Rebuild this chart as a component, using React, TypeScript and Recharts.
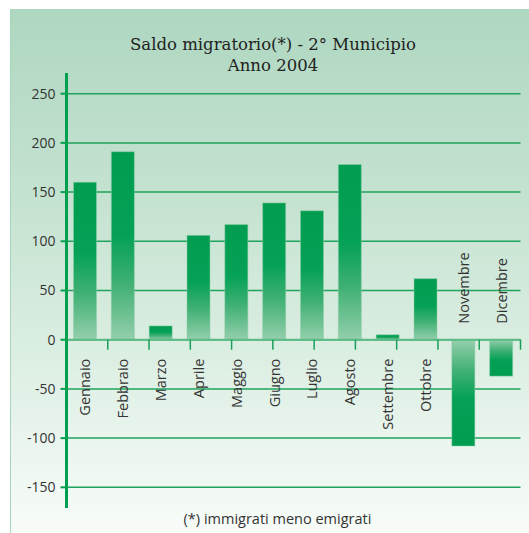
import React from 'react';
import { BarChart, Bar, XAxis, YAxis, CartesianGrid, ReferenceLine, LabelList } from 'recharts';

const months = ['Gennaio', 'Febbraio', 'Marzo', 'Aprile', 'Maggio', 'Giugno', 'Luglio', 'Agosto', 'Settembre', 'Ottobre', 'Novembre', 'Dicembre'];
const saldo = [160, 191, 14, 106, 117, 139, 131, 178, 5, 62, -108, -37];
const yTicks = [-150, -100, -50, 0, 50, 100, 150, 200, 250];
const boundaries = [1, 2, 3, 4, 5, 6, 7, 8, 9, 10, 11, 12];
const titleLines = ['Saldo migratorio(*) - 2° Municipio', 'Anno 2004'];
const footnote = '(*) immigrati meno emigrati';

const data = months.map((m, i) => ({ month: m, value: saldo[i] }));

const GREEN = '#00a050';
const SANS = '"Open Sans", "Liberation Sans", sans-serif';

const MonthLabel = (props: any) => {
  const { x, y, width, height, index } = props;
  const v = saldo[index];
  const cx = x + width / 2;
  const y1 = y;
  const y2 = y + height;
  if (v >= 0) {
    const zeroY = Math.max(y1, y2);
    return (
      <text x={cx} y={zeroY + 19} transform={`rotate(-90, ${cx}, ${zeroY + 19})`} textAnchor="end" dominantBaseline="central" fontFamily={SANS} fontSize={14.5} fill="#333">
        {months[index]}
      </text>
    );
  }
  const zeroY = Math.min(y1, y2);
  return (
    <text x={cx} y={zeroY - 16} transform={`rotate(-90, ${cx}, ${zeroY - 16})`} textAnchor="start" dominantBaseline="central" fontFamily={SANS} fontSize={14.5} fill="#333">
      {months[index]}
    </text>
  );
};

export default function App() {
  return (
    <div style={{ position: 'fixed', left: 0, top: 0, width: 529, height: 533, background: '#fff', overflow: 'hidden' }}>
      <div
        style={{
          position: 'absolute',
          left: 10,
          top: 9,
          width: 519,
          height: 524,
          background: 'linear-gradient(to bottom, #aed7c0 0%, #c4e2d0 35%, #dbeee2 65%, #f8fcf9 100%)',
          borderLeft: '1.5px solid #a9d6bb',
          boxSizing: 'border-box',
        }}
      />
      <div style={{ position: 'absolute', left: 0, top: 0 }}>
        <BarChart width={529} height={533} data={data} margin={{ top: 73, right: 8.5, bottom: 25, left: 0 }}>
          <defs>
            <linearGradient id="posGrad" x1="0" y1="0" x2="0" y2="1">
              <stop offset="0%" stopColor="#009d50" />
              <stop offset="45%" stopColor="#05a156" />
              <stop offset="70%" stopColor="#3fb074" />
              <stop offset="100%" stopColor="#94cfac" />
            </linearGradient>
            <linearGradient id="negGrad" x1="0" y1="0" x2="0" y2="1">
              <stop offset="0%" stopColor="#94cfac" />
              <stop offset="30%" stopColor="#3fb074" />
              <stop offset="55%" stopColor="#05a156" />
              <stop offset="100%" stopColor="#009d50" />
            </linearGradient>
          </defs>
          <CartesianGrid vertical={false} horizontalValues={yTicks} stroke="#1fa35d" strokeWidth={1.5} />
          <XAxis dataKey="month" hide />
          <XAxis xAxisId="n" type="number" domain={[0, 12]} hide allowDataOverflow />
          <YAxis
            domain={[-171, 271]}
            ticks={yTicks}
            width={66.5}
            allowDataOverflow
            axisLine={{ stroke: GREEN, strokeWidth: 3 }}
            tickLine={{ stroke: GREEN, strokeWidth: 2 }}
            tickSize={6}
            tickMargin={5}
            tick={{ fill: '#333', fontSize: 14, fontFamily: SANS }}
            interval={0}
          />
          <Bar dataKey="value" barSize={23} isAnimationActive={false} shape={(p: any) => {
            const { x, y, width, height, index } = p;
            const top = Math.min(y, y + height);
            const h = Math.abs(height);
            return <rect x={x} y={top} width={width} height={h} fill={saldo[index] >= 0 ? 'url(#posGrad)' : 'url(#negGrad)'} stroke="#8ccfa7" strokeOpacity={0.5} strokeWidth={1} />;
          }}>
            <LabelList dataKey="month" content={MonthLabel} />
          </Bar>
          <ReferenceLine y={0} stroke="#5cbb86" strokeWidth={2} />
          {boundaries.map((b) => (
            <ReferenceLine
              key={b}
              xAxisId="n"
              segment={[{ x: b, y: 0 }, { x: b, y: -10.2 }]}
              stroke="#1a9f5a"
              strokeWidth={1.5}
              ifOverflow="visible"
            />
          ))}
        </BarChart>
      </div>
      <div style={{ position: 'absolute', left: 0, width: 546, top: 34, textAlign: 'center', fontFamily: '"DejaVu Serif", "Liberation Serif", serif', fontSize: 16.5, lineHeight: '21px', color: '#222' }}>
        <div>{titleLines[0]}</div>
        <div>{titleLines[1]}</div>
      </div>
      <div style={{ position: 'absolute', left: 0, width: 555, top: 510, textAlign: 'center', fontFamily: SANS, fontSize: 14.5, lineHeight: '18px', color: '#333' }}>
        {footnote}
      </div>
    </div>
  );
}
